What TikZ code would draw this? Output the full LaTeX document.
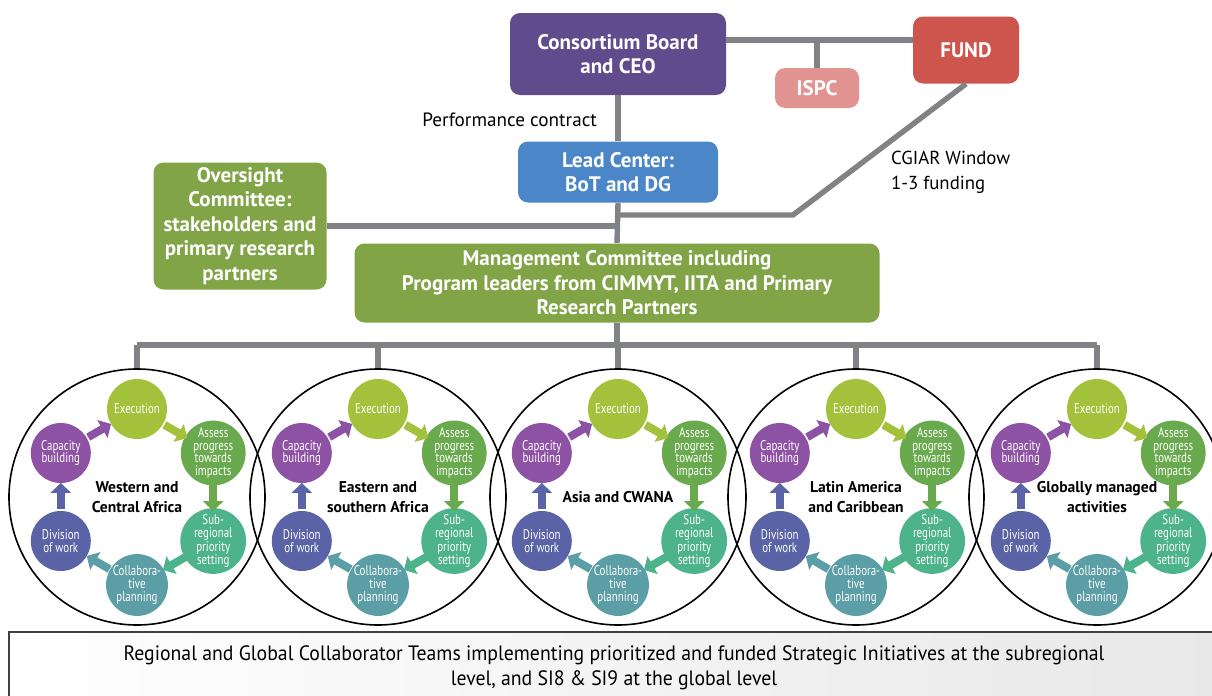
\documentclass[tikz,border=0pt]{standalone}
\usepackage{fontspec}
\setmainfont{PT Sans}
\newfontfamily\narrowfont[FakeStretch=0.78]{PT Sans}
\newfontfamily\teamfont[FakeStretch=0.95]{PT Sans}
\usetikzlibrary{arrows.meta,calc}

\definecolor{boardpurple}{RGB}{96,76,140}
\definecolor{fundred}{RGB}{206,84,78}
\definecolor{ispcpink}{RGB}{226,148,146}
\definecolor{leadblue}{RGB}{74,134,200}
\definecolor{mgmtgreen}{RGB}{128,164,70}
\definecolor{linegray}{RGB}{128,130,133}
\definecolor{execcol}{RGB}{163,193,58}
\definecolor{assesscol}{RGB}{106,170,78}
\definecolor{subcol}{RGB}{77,179,138}
\definecolor{collabcol}{RGB}{91,158,166}
\definecolor{divcol}{RGB}{90,99,166}
\definecolor{capcol}{RGB}{141,82,164}

\tikzset{
  govbox/.style={rounded corners=5pt, text=white, align=center, inner sep=0pt,
    font=\bfseries\fontsize{10.5}{12.2}\selectfont},
  link/.style={draw=linegray, line width=2.7pt},
  regioncirc/.style={circle, draw=black, line width=0.8pt, minimum size=128pt,
    inner sep=0pt, align=center, font=\bfseries\fontsize{7.8}{10}\selectfont},
  stepcirc/.style={circle, fill=#1, minimum size=30pt, inner sep=0pt, text=white,
    align=center, font=\narrowfont\fontsize{7}{6.4}\selectfont},
  cycarrow/.style={draw=#1, line width=4pt, -{Triangle[length=5pt,width=10pt]}},
  teambox/.style={draw=black!75, line width=1pt, left color=white, right color=black!9,
    minimum width=605pt, minimum height=36pt, align=center,
    font=\teamfont\fontsize{10.4}{12.5}\selectfont}
}

\begin{document}
\begin{tikzpicture}[x=0.5pt,y=0.5pt]
        \useasboundingbox (0,0) rectangle (1212,-696);
        \node [govbox, fill=boardpurple, minimum width=108pt, minimum height=41pt] (board) at (618,-54) {Consortium Board\\and CEO};
        \node [govbox, fill=ispcpink, minimum width=42pt, minimum height=20pt] (ispc) at (817,-88) {ISPC};
        \node [govbox, fill=fundred, minimum width=53pt, minimum height=33.5pt] (fund) at (966,-50) {FUND};
        \node [govbox, fill=leadblue, minimum width=100pt, minimum height=30.5pt] (lead) at (618,-172) {Lead Center:\\BoT and DG};
        \node [govbox, fill=mgmtgreen, minimum width=86.5pt, minimum height=63.5pt] (oversight) at (240,-226) {Oversight\\Committee:\\stakeholders and\\primary research\\partners};
        \node [govbox, fill=mgmtgreen, minimum width=262.5pt, minimum height=39.5pt] (mgmt) at (617,-283) {Management Committee including\\Program leaders from CIMMYT, IITA and Primary\\Research Partners};
        \node [anchor=east, font=\fontsize{9.6}{12}\selectfont] (perf) at (604,-120) {Performance contract};
        \node [anchor=west, align=left, font=\fontsize{9.4}{12.4}\selectfont] (cgiar) at (884,-172) {CGIAR Window\\1-3 funding};
        \coordinate (topbar) at (0,-40);
        \coordinate (bend) at (793,-215);
        \coordinate (bus) at (0,-345);
        \draw [link] (board.east |- topbar) -- (fund.west |- topbar);
        \draw [link] (ispc.north) -- (ispc.north |- topbar);
        \draw [link] (board.south) -- (lead.north);
        \draw [link] (lead.south) -- (mgmt.north);
        \draw [link] (oversight.east) -- (oversight.east -| lead);
        \draw [link] (fund.south) -- (bend) -- (bend -| lead);
        \draw [link] (mgmt.south) -- (mgmt.south |- bus);
        \draw [link] (137,-345) -- (1097,-345);
        \foreach \cx/\name/\region in {137/wca/{Western and\\Central Africa}, 378/esa/{Eastern and\\southern Africa}, 618/asia/{Asia and CWANA}, 856/lac/{Latin America\\and Caribbean}, 1097/glob/{Globally managed\\activities}} {
          \node [regioncirc] (\name) at (\cx,-497) {\region};
          \draw [link] (\name.north |- bus) -- (\name.north);
          \node [stepcirc=execcol] (\name-exec) at ($(\name)+(90:88)$) {Execution};
          \node [stepcirc=assesscol] (\name-assess) at ($(\name)+(30:88)$) {Assess\\progress\\towards\\impacts};
          \node [stepcirc=subcol] (\name-sub) at ($(\name)+(-30:88)$) {Sub-\\regional\\priority\\setting};
          \node [stepcirc=collabcol] (\name-collab) at ($(\name)+(-90:88)$) {Collabora-\\tive\\planning};
          \node [stepcirc=divcol] (\name-div) at ($(\name)+(-150:88)$) {Division\\of work};
          \node [stepcirc=capcol] (\name-cap) at ($(\name)+(150:88)$) {Capacity\\building};
          \draw [cycarrow=execcol] ($(\name-exec)!0.36!(\name-assess)$) -- ($(\name-exec)!0.66!(\name-assess)$);
          \draw [cycarrow=assesscol] ($(\name-assess)!0.36!(\name-sub)$) -- ($(\name-assess)!0.66!(\name-sub)$);
          \draw [cycarrow=subcol] ($(\name-sub)!0.36!(\name-collab)$) -- ($(\name-sub)!0.66!(\name-collab)$);
          \draw [cycarrow=collabcol] ($(\name-collab)!0.36!(\name-div)$) -- ($(\name-collab)!0.66!(\name-div)$);
          \draw [cycarrow=divcol] ($(\name-div)!0.36!(\name-cap)$) -- ($(\name-div)!0.66!(\name-cap)$);
          \draw [cycarrow=capcol] ($(\name-cap)!0.36!(\name-exec)$) -- ($(\name-cap)!0.66!(\name-exec)$);
        }
        \node [teambox] (teams) at (614,-668) {Regional and Global Collaborator Teams implementing prioritized and funded Strategic Initiatives at the subregional\\level, and SI8 \& SI9 at the global level};
        \end{tikzpicture}
\end{document}
